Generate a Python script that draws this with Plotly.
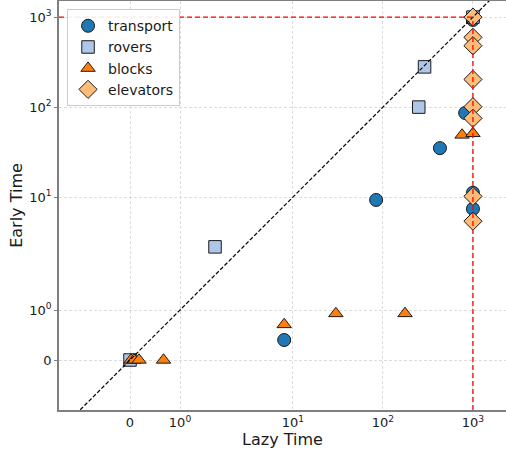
import numpy as np
import plotly.graph_objects as go

# ---------------- data ----------------
transport_x = [8, 84, 430, 820, 1000, 1000, 1000]
transport_y = [0.4, 9.3, 35, 86, 11.2, 7.4, 930]

rovers_x = [0, 1.7, 290, 250, 1000]
rovers_y = [0, 2.8, 280, 100, 1000]

blocks_x = [0.02, 0.08, 0.18, 0.67, 8, 30, 176, 757, 1000]
blocks_y = [0, 0, 0, 0, 0.71, 0.93, 0.93, 49, 51]

elevators_x = [1000, 1000, 1000, 1000, 1000, 1000, 1000, 1000]
elevators_y = [1000, 596, 481, 203, 101, 75, 10.2, 5.4]

tick_values = [0, 1, 10, 100, 1000]
tick_labels = ["0", "10<sup>0</sup>", "10<sup>1</sup>", "10<sup>2</sup>", "10<sup>3</sup>"]

timeout = 1000
x_limits = [-1.42, 2330]
y_limits = [-1.0, 1510]

# ---------------- symlog transform (linthresh=2, linscale=1) ----------------
LINTHRESH = 2.0
LINSCALE_ADJ = 1.0 / (1.0 - 1.0 / 10.0)


def symlog(v):
    v = np.asarray(v, dtype=float)
    a = np.abs(v)
    logpart = np.sign(v) * LINTHRESH * (LINSCALE_ADJ + np.log10(np.maximum(a, 1e-300) / LINTHRESH))
    return np.where(a <= LINTHRESH, v * LINSCALE_ADJ, logpart)


series = [
    ("transport", transport_x, transport_y, "circle", "#1f77b4", 13),
    ("rovers", rovers_x, rovers_y, "square", "#aec7e8", 12.5),
    ("blocks", blocks_x, blocks_y, "triangle-up", "#ff7f0e", 12.5),
    ("elevators", elevators_x, elevators_y, "diamond", "#ffbb78", 14),
]

fig = go.Figure()
for name, xs, ys, sym, col, size in series:
    fig.add_trace(go.Scatter(
        x=symlog(xs), y=symlog(ys), mode="markers", name=name,
        marker=dict(symbol=sym, color=col, size=size,
                    line=dict(color="#1a1a1a", width=1)),
    ))

# diagonal y = x
diag = symlog(x_limits)
fig.add_trace(go.Scatter(x=diag, y=diag, mode="lines", showlegend=False,
                         line=dict(color="black", width=1.2, dash="4px,2px"),
                         hoverinfo="skip"))
# timeout lines
fig.add_trace(go.Scatter(x=symlog([x_limits[0], timeout]), y=symlog([timeout, timeout]),
                         mode="lines", showlegend=False,
                         line=dict(color="red", width=1.3, dash="5px,3px"), hoverinfo="skip"))
fig.add_trace(go.Scatter(x=symlog([timeout, timeout]), y=symlog([y_limits[0], timeout]),
                         mode="lines", showlegend=False,
                         line=dict(color="red", width=1.3, dash="5px,3px"), hoverinfo="skip"))

axis_common = dict(
    tickvals=symlog(tick_values), ticktext=tick_labels,
    showgrid=True, gridcolor="#dddddd", gridwidth=1, griddash="3px,2px",
    zeroline=False, showline=True, linecolor="#7f7f7f", linewidth=1.6,
    tickfont=dict(family="DejaVu Sans", size=13, color="#1a1a1a"),
    automargin=False,
)

fig.update_xaxes(**axis_common, range=symlog(x_limits).tolist(), mirror=True,
                 ticks="", title=dict(text="Lazy Time", standoff=4,
                                      font=dict(family="DejaVu Sans", size=16, color="#1a1a1a")))
fig.update_yaxes(**axis_common, range=symlog(y_limits).tolist(), mirror=False,
                 ticks="outside", ticklen=3, tickcolor="#7f7f7f",
                 title=dict(text="Early Time", standoff=3,
                            font=dict(family="DejaVu Sans", size=16, color="#1a1a1a")))

fig.update_layout(
    width=506, height=453,
    margin=dict(l=59, r=0, t=1, b=43),
    plot_bgcolor="white", paper_bgcolor="white",
    font=dict(family="DejaVu Sans", color="#1a1a1a"),
    legend=dict(x=0.018, y=0.98, xanchor="left", yanchor="top",
                bgcolor="rgba(255,255,255,0.9)", bordercolor="#cccccc", borderwidth=1,
                font=dict(family="DejaVu Sans", size=14, color="#1a1a1a")),
)

fig.write_html("out.html", post_script="document.body.style.margin='0';",
               config={"displayModeBar": False})
